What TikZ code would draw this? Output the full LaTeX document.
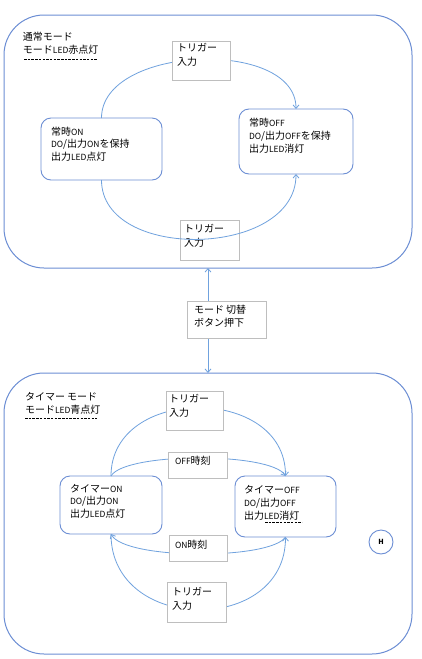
\documentclass[tikz,border=0pt]{standalone}
\usepackage{fontspec}
\setmainfont{Noto Sans CJK JP}
\usetikzlibrary{arrows.meta}
\definecolor{frameblue}{RGB}{108,142,212}
\definecolor{arcblue}{RGB}{112,162,222}
\definecolor{boxgray}{RGB}{190,190,190}
\newcommand\lat[1]{{\fontsize{8.5}{9}\selectfont #1}}
\begin{document}
\begin{tikzpicture}[x=1pt,y=-1pt,
  outerbox/.style={draw=frameblue, line width=1pt, rounded corners=40pt, inner sep=0pt, outer sep=0pt},
  statebox/.style={draw=frameblue, line width=0.9pt, rounded corners=10pt, inner sep=0pt, outer sep=0pt},
  labelbox/.style={draw=boxgray, line width=0.9pt, fill=white, inner sep=0pt, outer sep=0pt},
  txt/.style={inner sep=0pt, outer sep=0pt, anchor=north west, align=left, font=\fontsize{10}{12.5}\selectfont},
  trig/.style={txt, font=\fontsize{10}{14}\selectfont},
  conn/.style={draw=arcblue, line width=0.8pt},
  arr/.style={-{Straight Barb[length=3.5pt,width=6pt]}},
  dul/.style={draw=black, line width=0.6pt, dash pattern=on 2.5pt off 1.2pt},
]
\useasboundingbox[fill=white] (0,0) rectangle (422,659);

% outer mode frames
\node[outerbox, minimum width=408, minimum height=253] (normal) at (208,141.5) {};
\node[outerbox, minimum width=408, minimum height=281] (timer) at (208,513.5) {};

% mode labels
\node[txt] (lab1) at (23,32.5) {通常モード\\モード\lat{LED}赤点灯};
\draw[dul] (24,59) -- (97,59);
\node[txt, font=\fontsize{10}{13}\selectfont] (lab2) at (25,392) {タイマー モード\\モード\lat{LED}青点灯};
\draw[dul] (25,418) -- (97,418);

% state boxes
\node[statebox, minimum width=121, minimum height=62] (on1) at (101.5,149) {};
\node[txt] (on1t) at (51,127) {常時\lat{ON}\\\lat{DO}/出力\lat{ON}を保持\\出力\lat{LED}点灯};
\node[statebox, minimum width=114, minimum height=65] (off1) at (296,141.5) {};
\node[txt, font=\fontsize{10}{13}\selectfont] (off1t) at (249,118) {常時\lat{OFF}\\\lat{DO}/出力\lat{OFF}を保持\\出力\lat{LED}消灯};
\node[statebox, minimum width=102, minimum height=58] (on2) at (111,505) {};
\node[txt] (on2t) at (70,484) {タイマー\lat{ON}\\\lat{DO}/出力\lat{ON}\\出力\lat{LED}点灯};
\node[statebox, minimum width=101, minimum height=61] (off2) at (285.5,506.5) {};
\node[txt, font=\fontsize{10}{13}\selectfont] (off2t) at (244,485) {タイマー\lat{OFF}\\\lat{DO}/出力\lat{OFF}\\出力\lat{LED}消灯};
\draw[dul] (265,522) -- (302,522);

% normal mode transitions
\draw[conn, arr] (on1.north) .. controls +(0,-73) and +(0,-71) .. (off1.north);
\node[draw=boxgray, line width=0.9pt, inner sep=0pt, outer sep=0pt, minimum width=59, minimum height=40] (tr2) at (209.5,240) {};
\node[trig] (tr2t) at (184,224) {トリガー\\入力};
\draw[conn, arr] (on1.south) .. controls +(0,82) and +(0,84) .. (off1.south);
\node[labelbox, minimum width=58, minimum height=39] (tr1) at (201,60.5) {};
\node[trig] (tr1t) at (177,43) {トリガー\\入力};

% mode switch
\draw[conn, {Straight Barb[length=3.5pt,width=6pt]}-{Straight Barb[length=3.5pt,width=6pt]}] (normal.south) -- (timer.north);
\node[labelbox, minimum width=79, minimum height=37] (mode) at (226.5,319.5) {};
\node[trig, font=\fontsize{10}{13}\selectfont] (modet) at (194,305.5) {モード 切替\\ボタン押下};

% timer mode transitions
\draw[conn, arr] (on2.north) .. controls +(0,-91) and +(0,-91) .. (off2.north);
\draw[conn, arr] (on2.north) .. controls +(14,-24) and +(-14.5,-24) .. (off2.north);
\draw[conn, arr] (off2.south) .. controls +(-15,23) and +(14,26) .. (on2.south);
\draw[conn, arr] (on2.south) .. controls +(0,100) and +(0,98) .. (off2.south);

\node[labelbox, minimum width=57, minimum height=39] (tr3) at (194.5,410.5) {};
\node[trig] (tr3t) at (169,394) {トリガー\\入力};
\node[labelbox, minimum width=59, minimum height=26] (offtime) at (197.5,465) {};
\node[txt] (offtimet) at (175,456.5) {\lat{OFF}時刻};
\node[labelbox, minimum width=58, minimum height=26] (ontime) at (198,548) {};
\node[txt] (ontimet) at (175,540) {\lat{ON}時刻};
\node[labelbox, minimum width=59, minimum height=40] (tr4) at (196.5,602) {};
\node[trig] (tr4t) at (172,587) {トリガー\\入力};

% H marker
\node[circle, draw=frameblue, line width=0.9pt, minimum size=24, inner sep=0pt, font=\fontsize{7}{8}\selectfont\bfseries] (hmark) at (381,542) {H};
\end{tikzpicture}
\end{document}
